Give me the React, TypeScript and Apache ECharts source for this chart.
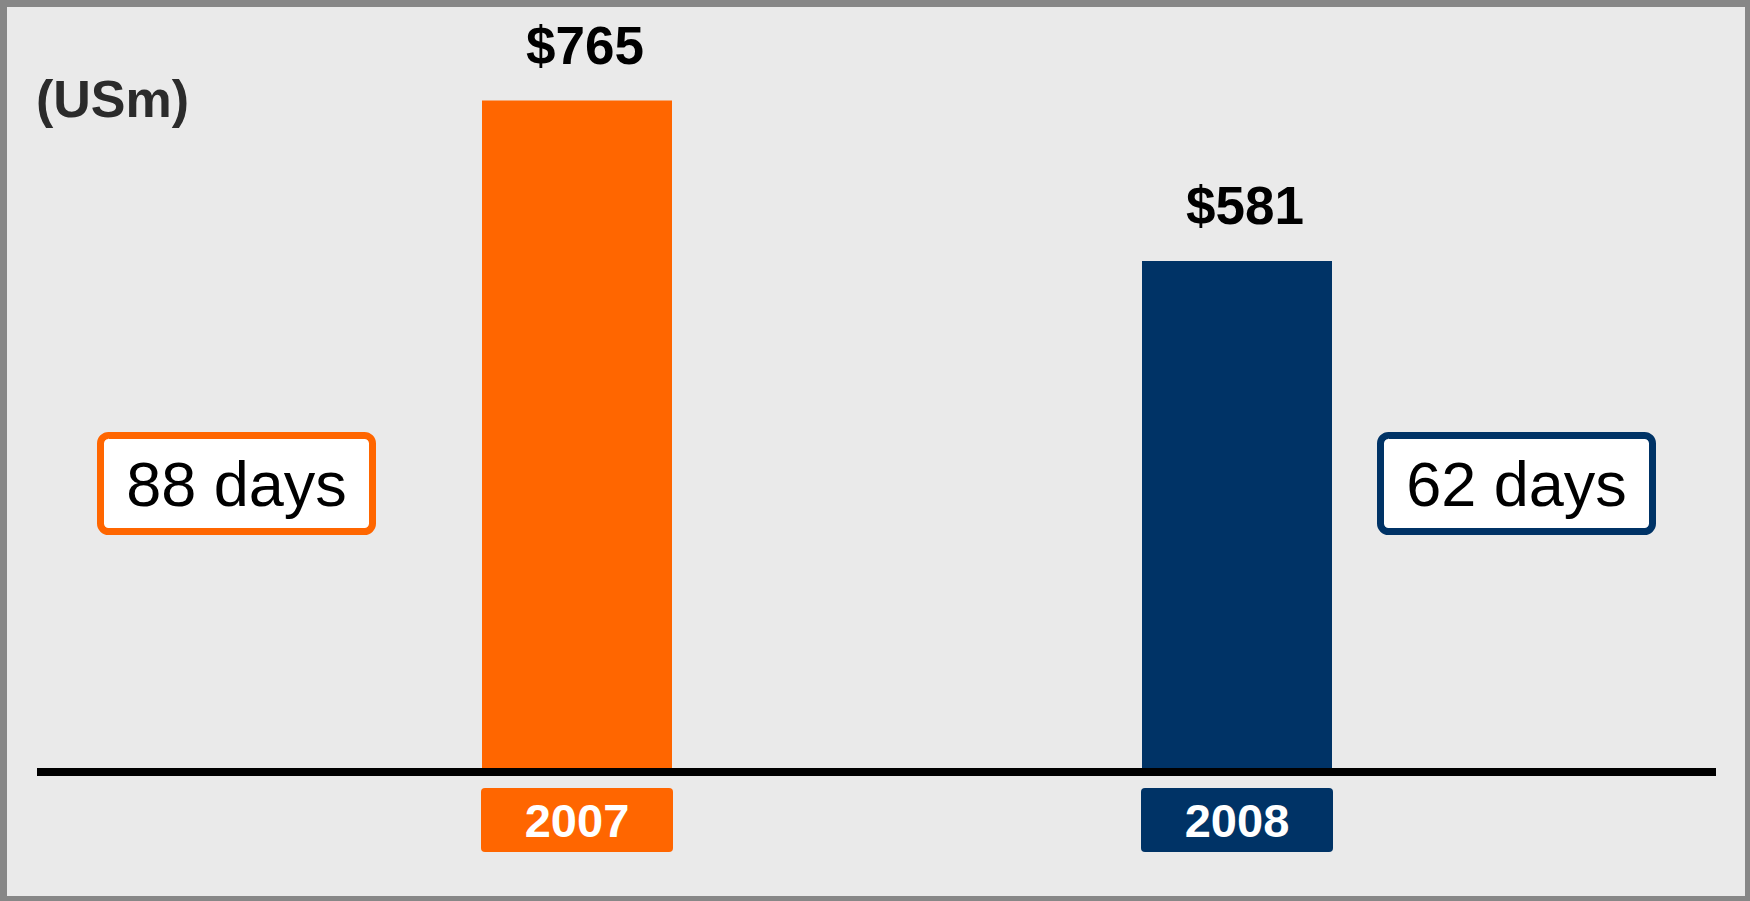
import React, { useEffect, useRef } from "react";
import * as echarts from "echarts";

const years = ["2007", "2008"];
const values = [765, 581];
const barColors = ["#FF6600", "#003366"];
const days = ["88 days", "62 days"];
const unitLabel = "(USm)";

const FONT = "'Liberation Sans', Arial, Helvetica, sans-serif";

export default function App() {
  const ref = useRef<HTMLDivElement>(null);
  useEffect(() => {
    if (!ref.current) return;
    const chart = echarts.init(ref.current, undefined, { renderer: "svg" });
    const rich: any = {};
    years.forEach((_, i) => {
      rich["y" + i] = {
        backgroundColor: barColors[i],
        color: "#ffffff",
        fontFamily: FONT,
        fontWeight: "bold",
        fontSize: 47,
        width: 192,
        height: 64,
        lineHeight: 64,
        align: "center",
        borderRadius: 4,
      };
    });
    const dayBox = (cx: number, text: string, color: string) => ({
      type: "group",
      children: [
        {
          type: "rect",
          shape: { x: cx - 136, y: 435.5, width: 272, height: 96, r: 8 },
          style: { fill: "#ffffff", stroke: color, lineWidth: 7 },
          z: 10,
        },
        {
          type: "text",
          x: cx,
          y: 484,
          style: {
            text,
            fontFamily: FONT,
            fontSize: 63,
            fill: "#000000",
            align: "center",
            verticalAlign: "middle",
          },
          z: 11,
        },
      ],
    });
    chart.setOption({
      animation: false,
      backgroundColor: "#EAEAEA",
      grid: { left: 247, right: 183, top: 70, height: 698 },
      xAxis: {
        type: "category",
        data: years,
        axisLine: { show: false },
        axisTick: { show: false },
        axisLabel: {
          margin: 20,
          formatter: (v: string, i: number) => `{y${i}|${v}}`,
          rich,
        },
      },
      yAxis: {
        type: "value",
        min: 0,
        max: 800,
        show: false,
        splitLine: { show: false },
      },
      series: [
        {
          type: "bar",
          barWidth: 190,
          data: values.map((v, i) => ({ value: v, itemStyle: { color: barColors[i] } })),
          label: {
            show: true,
            position: "top",
            distance: 29,
            offset: [8, 0],
            formatter: (p: any) => "$" + p.value,
            fontFamily: FONT,
            fontWeight: "bold",
            fontSize: 53,
            color: "#000000",
          },
        },
      ],
      graphic: {
        elements: [
          {
            type: "line",
            shape: { x1: 37, y1: 772, x2: 1716, y2: 772 },
            style: { stroke: "#000000", lineWidth: 8 },
            z: 5,
          },
          {
            type: "text",
            x: 36,
            y: 99,
            style: {
              text: unitLabel,
              fontFamily: FONT,
              fontWeight: "bold",
              fontSize: 52,
              fill: "#2B2B2B",
              align: "left",
              verticalAlign: "middle",
            },
          },
          dayBox(236.5, days[0], barColors[0]),
          dayBox(1516.5, days[1], barColors[1]),
          { type: "rect", shape: { x: 0, y: 0, width: 1750, height: 7 }, style: { fill: "#878787" }, z: 20 },
          { type: "rect", shape: { x: 0, y: 0, width: 7, height: 901 }, style: { fill: "#878787" }, z: 20 },
          { type: "rect", shape: { x: 1745, y: 0, width: 5, height: 901 }, style: { fill: "#878787" }, z: 20 },
          { type: "rect", shape: { x: 0, y: 896, width: 1750, height: 5 }, style: { fill: "#878787" }, z: 20 },
        ],
      },
    });
    return () => chart.dispose();
  }, []);
  return (
    <div
      ref={ref}
      style={{ position: "fixed", left: 0, top: 0, width: 1750, height: 901 }}
    />
  );
}
